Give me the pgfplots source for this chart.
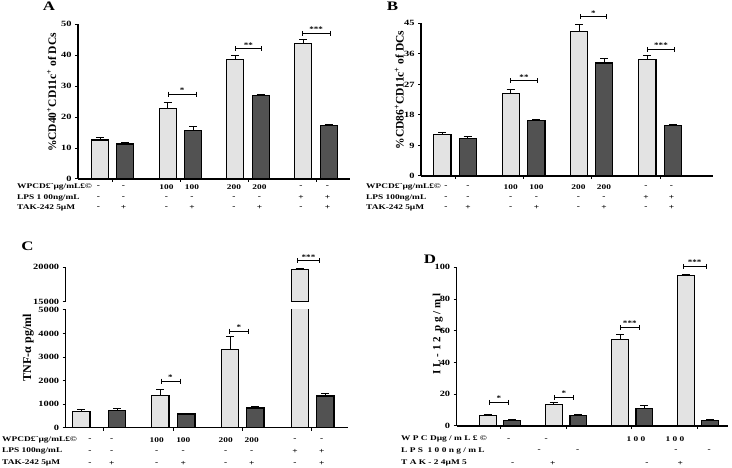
\documentclass[border=0pt]{standalone}
\usepackage{fontspec}
\setmainfont{Liberation Serif}[FakeStretch=1.3]
\newfontfamily\lab{Liberation Serif}
\usepackage{pgfplots}
\pgfplotsset{compat=1.18}
\definecolor{lightbar}{HTML}{E3E3E3}
\definecolor{darkbar}{HTML}{525252}
\pgfplotsset{
  panel/.style={
    scale only axis, anchor=south west,
    axis x line*=bottom, axis y line*=left,
    axis line style={line width=1.3pt, -},
    tick style={line width=1pt, black},
    tick align=outside, major tick length=3pt,
    xticklabels={},
    ticklabel style={font=\fontsize{8}{8}\selectfont\bfseries},
    /pgf/number format/assume math mode=true,
    /pgf/number format/1000 sep={},
    scaled y ticks=false,
    clip=false, enlargelimits=false,
  },
  lbar/.style={ybar, bar shift=0pt, fill=lightbar, draw=black, line width=1.1pt,
    error bars/y dir=plus, error bars/y explicit,
    error bars/error mark=|,
    error bars/error bar style={line width=1pt},
    error bars/error mark options={line width=1pt, mark size=4pt}},
  dbar/.style={ybar, bar shift=0pt, fill=darkbar, draw=black, line width=1.1pt,
    error bars/y dir=plus, error bars/y explicit,
    error bars/error mark=|,
    error bars/error bar style={line width=1pt},
    error bars/error mark options={line width=1pt, mark size=4pt}},
  sig/.style={line width=1pt, mark=|, mark size=2.5pt, mark options={solid, line width=1pt}},
}
\tikzset{
  tt/.style={font=\fontsize{7.2}{8}\selectfont\bfseries, inner sep=0pt},
  star/.style={font=\fontsize{7}{7}\selectfont\bfseries, inner sep=1pt, above},
  ylab/.style={rotate=90, inner sep=0pt, font=\lab\bfseries\fontsize{11.5}{11.5}\selectfont},
  plet/.style={font=\fontsize{13}{13}\selectfont\bfseries, inner sep=0pt},
}
\begin{document}
\begin{tikzpicture}
\useasboundingbox (0pt,0pt) rectangle (732pt,468pt);
% ---------------- A ----------------
\begin{axis}[panel, at={(78pt,289pt)}, width=272pt, height=154.7pt,
  xmin=78, xmax=350, ymin=0, ymax=50, ytick={0,10,...,50},
  xtick={112.7,180.3,248,316}]
\addplot[lbar, bar width=16.8] coordinates {(100,12.6) +- (0,0.8) (167.7,22.8) +- (0,2.0) (235.3,38.6) +- (0,1.2) (303.3,43.9) +- (0,1.1)};
\addplot[dbar, bar width=16.8] coordinates {(125,11.3) +- (0,0.55) (193,15.8) +- (0,1.2) (260.7,26.9) +- (0,0.5) (328.7,17.3) +- (0,0.4)};
\addplot[sig] coordinates {(168.3,27.4) (196,27.4)} node[star,pos=0.5] {*};
\addplot[sig] coordinates {(235,42.1) (261.7,42.1)} node[star,pos=0.5] {**};
\addplot[sig] coordinates {(302.3,47.1) (330,47.1)} node[star,pos=0.5] {***};
\end{axis}
% ---------------- B ----------------
\begin{axis}[panel, at={(421pt,292pt)}, width=291.7pt, height=152.7pt,
  xmin=421, xmax=712.7, ymin=0, ymax=45, ytick={0,9,...,45},
  xtick={455,523.3,591.3,660}]
\addplot[lbar, bar width=17.3] coordinates {(442.3,12.3) +- (0,0.5) (510.7,24.2) +- (0,1.4) (579,42.6) +- (0,1.9) (647.3,34.4) +- (0,1.2)};
\addplot[dbar, bar width=17.3] coordinates {(467.7,11.1) +- (0,0.4) (536.3,16.4) +- (0,0.2) (604,33.3) +- (0,1.2) (673,15.0) +- (0,0.1)};
\addplot[sig] coordinates {(510.3,28.0) (537.7,28.0)} node[star,pos=0.5] {**};
\addplot[sig] coordinates {(580.3,47.0) (606.7,47.0)} node[star,pos=0.5] {*};
\addplot[sig] coordinates {(647.7,37.3) (674.3,37.3)} node[star,pos=0.5] {***};
\end{axis}
% ---------------- C lower ----------------
\begin{axis}[panel, at={(65.7pt,40.3pt)}, width=282.3pt, height=117.7pt, clip=true,
  xmin=65.7, xmax=348, ymin=0, ymax=5000, ytick={0,1000,...,5000},
  xtick={103.3,173.3,242.3,311.7}]
\addplot[lbar, bar width=17.3] coordinates {(81.3,694) +- (0,85) (160.3,1374) +- (0,255) (230,3314) +- (0,566)};
\addplot[ybar, bar shift=0pt, bar width=17.3, fill=lightbar, draw=black, line width=1.1pt] coordinates {(299.7,19660)};
\addplot[dbar, bar width=17.3] coordinates {(117,736) +- (0,99) (186.3,580) +- (0,43) (255.3,835) +- (0,71) (325.3,1345) +- (0,99)};
\addplot[sig] coordinates {(161,1982) (180,1982)} node[star,pos=0.5] {*};
\addplot[sig] coordinates {(229.3,4106) (248.3,4106)} node[star,pos=0.5] {*};
\end{axis}
% ---------------- C upper ----------------
\begin{axis}[panel, at={(65.7pt,166.3pt)}, width=282.3pt, height=34.4pt, clip=true,
  axis x line=none,
  xmin=65.7, xmax=348, ymin=15000, ymax=20000, ytick={15000,20000}]
\addplot[lbar, bar width=17.3] coordinates {(299.7,19660) +- (0,190)};
\end{axis}
\begin{axis}[scale only axis, anchor=south west, at={(65.7pt,166.3pt)}, width=282.3pt, height=34.4pt,
  hide axis, clip=false,
  xmin=65.7, xmax=348, ymin=15000, ymax=20000]
\addplot[sig] coordinates {(297.7,20970) (319.3,20970)} node[star,pos=0.5] {***};
\end{axis}
% ---------------- D ----------------
\begin{axis}[panel, at={(456.7pt,42pt)}, width=271pt, height=158.7pt,
  xmin=456.7, xmax=727.7, ymin=0, ymax=100, ytick={0,20,...,100},
  xtick={500.3,566,631.7,697.7}]
\addplot[lbar, bar width=16.7] coordinates {(487.7,6.7) +- (0,0.7) (553.7,13.4) +- (0,1.5) (620,54.6) +- (0,3.2) (685.7,94.7) +- (0,0.9)};
\addplot[dbar, bar width=16.7] coordinates {(512,3.6) +- (0,0.4) (578.3,6.7) +- (0,0.7) (644.3,11.1) +- (0,1.5) (710,3.6) +- (0,0.8)};
\addplot[sig] coordinates {(489.3,14.9) (508.7,14.9)} node[star,pos=0.5] {*};
\addplot[sig] coordinates {(554.3,18.1) (573.7,18.1)} node[star,pos=0.5] {*};
\addplot[sig] coordinates {(620.3,62.2) (639.3,62.2)} node[star,pos=0.5] {***};
\addplot[sig] coordinates {(683.3,100.6) (706,100.6)} node[star,pos=0.5] {***};
\end{axis}
% ---------------- labels ----------------
\begin{scope}[x=1pt,y=1pt]
\node[plet] at (49,461.5) {A};
\node[plet] at (392.5,461.5) {B};
\node[plet] at (27.5,222) {C};
\node[plet] at (430,209) {D};
\node[ylab] at (51.7,375.5) {\%CD40\textsuperscript{+}CD11c\textsuperscript{+} of DCs};
\node[ylab] at (399.3,378) {\%CD86\textsuperscript{+}CD11c\textsuperscript{+} of DCs};
\node[ylab, font=\lab\bfseries\fontsize{12}{12}\selectfont] at (28.3,120.5) {TNF-α pg/ml};
\node[ylab, font=\lab\bfseries\fontsize{11}{11}\selectfont] at (437.7,134) {I L - 1 2 \ p g / m l};
% table A
\node[tt, anchor=west] at (17,281) {WPCD£¨µg/mL£©};
\node[tt, anchor=west] at (17,270.5) {LPS 1 00ng/mL};
\node[tt, anchor=west] at (17,260.5) {TAK-242 5µM};
\foreach \x/\a/\b/\c in {98.5/-/-/-, 123.5/-/-/+, 166.5/100/-/-, 192/100/-/+, 234/200/-/-, 259.5/200/-/+, 301/-/+/-, 327.5/-/+/+}{
  \node[tt] at (\x,281) {\a};
  \node[tt] at (\x,270.5) {\b};
  \node[tt] at (\x,260.5) {\c};
}
% table B
\node[tt, anchor=west] at (366,281) {WPCD£¨µg/mL£©};
\node[tt, anchor=west] at (366,270.5) {LPS 100ng/mL};
\node[tt, anchor=west] at (366,260.5) {TAK-242 5µM};
\foreach \x/\a/\b/\c in {446/-/-/-, 468/-/-/+, 510.7/100/-/-, 536.5/100/-/+, 578.5/200/-/-, 604/200/-/+, 646/-/+/-, 671.5/-/+/+}{
  \node[tt] at (\x,281) {\a};
  \node[tt] at (\x,270.5) {\b};
  \node[tt] at (\x,260.5) {\c};
}
% table C
\node[tt, anchor=west] at (2,28.3) {WPCD£¨µg/mL£©};
\node[tt, anchor=west] at (2,16.7) {LPS 100ng/mL};
\node[tt, anchor=west] at (2,4.7) {TAK-242 5µM};
\foreach \x/\a/\b/\c in {90/-/-/-, 111.7/-/-/+, 156.7/100/-/-, 183.3/100/-/+, 225.7/200/-/-, 251.7/200/-/+, 295/-/+/-, 321.7/-/+/+}{
  \node[tt] at (\x,28.3) {\a};
  \node[tt] at (\x,16.7) {\b};
  \node[tt] at (\x,4.7) {\c};
}
% table D
\node[tt, anchor=west] at (401,28.7) {W P C Dµg / m L £ ©};
\node[tt, anchor=west] at (401,17) {L P S \ 1 0 0 n g / m L};
\node[tt, anchor=west] at (401,4.7) {T A K - 2 4µM 5};
\foreach \x/\t in {508.7/-, 546.3/-, 636/1 0 0, 675/1 0 0}{\node[tt] at (\x,28.7) {\t};}
\foreach \x/\t in {539.3/-, 577.7/-, 676/-, 709.3/-}{\node[tt] at (\x,17) {\t};}
\foreach \x/\t in {512.7/-, 552.7/+, 647/-, 680.3/+}{\node[tt] at (\x,4.7) {\t};}
\end{scope}
\end{tikzpicture}
\end{document}
